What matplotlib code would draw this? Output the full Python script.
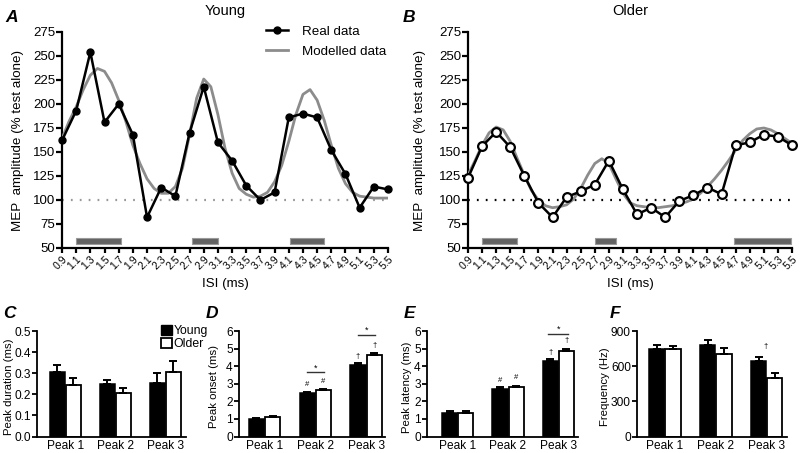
import matplotlib
matplotlib.use("Agg")
import matplotlib.pyplot as plt
from matplotlib.patches import Patch
from matplotlib.lines import Line2D
import numpy as np

plt.rcParams['font.family'] = ['Liberation Sans', 'DejaVu Sans']

# ---------------- data ----------------
isi = [0.9, 1.1, 1.3, 1.5, 1.7, 1.9, 2.1, 2.3, 2.5, 2.7, 2.9, 3.1, 3.3, 3.5,
       3.7, 3.9, 4.1, 4.3, 4.5, 4.7, 4.9, 5.1, 5.3, 5.5]
isi_labels = ["0.9", "1.1", "1.3", "1.5", "1.7", "1.9", "2.1", "2.3", "2.5", "2.7",
              "2.9", "3.1", "3.3", "3.5", "3.7", "3.9", "4.1", "4.3", "4.5", "4.7",
              "4.9", "5.1", "5.3", "5.5"]
young_real = [162, 193, 254, 181, 200, 168, 82, 113, 104, 170, 218, 160, 141, 115,
              100, 108, 186, 190, 186, 152, 127, 92, 114, 111]
older_real = [123, 156, 171, 155, 125, 97, 82, 103, 109, 116, 141, 111, 85, 92,
              82, 99, 105, 113, 106, 157, 160, 168, 166, 157]

model_x = [0.9, 1.0, 1.1, 1.2, 1.3, 1.4, 1.5, 1.6, 1.7, 1.8, 1.9, 2.0, 2.1, 2.2, 2.3,
           2.4, 2.5, 2.6, 2.7, 2.8, 2.9, 3.0, 3.1, 3.2, 3.3, 3.4, 3.5, 3.6, 3.7, 3.8,
           3.9, 4.0, 4.1, 4.2, 4.3, 4.4, 4.5, 4.6, 4.7, 4.8, 4.9, 5.0, 5.1, 5.2, 5.3,
           5.4, 5.5]
young_model = [164, 182, 197, 215, 230, 237, 234, 222, 204, 182, 157, 138, 122, 112, 107,
               107, 114, 133, 168, 206, 226, 218, 189, 154, 128, 112, 106, 103, 104, 108,
               119, 136, 161, 189, 210, 215, 204, 183, 157, 133, 117, 108, 104, 103, 102,
               102, 102]
older_model = [126, 141, 157, 170, 176, 173, 161, 143, 126, 110, 100, 94, 92, 93, 95,
               101, 112, 126, 138, 143, 138, 122, 107, 97, 94, 93, 92, 92, 93, 94,
               96, 98, 101, 107, 114, 122, 131, 141, 152, 162, 169, 174, 175, 173, 169,
               164, 159]

# significant windows (start, end) in ms
young_sig = [(1.10, 1.73), (2.73, 3.10), (4.12, 4.60)]
older_sig = [(1.10, 1.59), (2.71, 3.00), (4.68, 5.49)]

peaks = ["Peak 1", "Peak 2", "Peak 3"]
dur_young = [0.305, 0.248, 0.254]
dur_young_err = [0.032, 0.019, 0.048]
dur_older = [0.246, 0.208, 0.306]
dur_older_err = [0.030, 0.024, 0.053]

onset_young = [0.98, 2.45, 4.08]
onset_young_err = [0.08, 0.09, 0.09]
onset_older = [1.09, 2.62, 4.64]
onset_older_err = [0.10, 0.10, 0.11]

lat_young = [1.34, 2.70, 4.30]
lat_young_err = [0.09, 0.09, 0.10]
lat_older = [1.34, 2.81, 4.89]
lat_older_err = [0.09, 0.09, 0.11]

freq_young = [750, 778, 645]
freq_young_err = [31, 48, 37]
freq_older = [744, 702, 498]
freq_older_err = [31, 51, 42]

# ---------------- figure ----------------
W, H = 800, 453
fig = plt.figure(figsize=(8, 4.53), dpi=100)


def px_axes(x0, x1, ytop, ybot):
    return fig.add_axes([x0 / W, 1 - ybot / H, (x1 - x0) / W, (ybot - ytop) / H])


def style_axes(ax, lw=1.4):
    for s in ['top', 'right']:
        ax.spines[s].set_visible(False)
    for s in ['left', 'bottom']:
        ax.spines[s].set_linewidth(lw)
    ax.tick_params(direction='out', width=lw, length=4, colors='black')


def line_panel(ax, real, model, sig, open_markers, dot_color, title, title_x, ylabel_x):
    style_axes(ax, 1.6)
    ax.set_xlim(0.9, 5.5)
    ax.set_ylim(50, 275)
    ax.axhline(100, color=dot_color, lw=1.6, ls=(0, (0.8, 3.2)), zorder=1)
    for (a, b) in sig:
        ax.fill_between([a, b], 54.2, 60, color='#626262', lw=0.8,
                        edgecolor='#9a9a9a', zorder=2)
    ax.plot(model_x, model, color='#8c8c8c', lw=2.0, zorder=3)
    if open_markers:
        ax.plot(isi, real, color='black', lw=1.8, marker='o', ms=6.3,
                mfc='white', mec='black', mew=1.6, zorder=4, clip_on=False)
    else:
        ax.plot(isi, real, color='black', lw=1.8, marker='o', ms=5,
                mfc='black', mec='black', zorder=4, clip_on=False)
    ax.set_yticks([50, 75, 100, 125, 150, 175, 200, 225, 250, 275])
    ax.set_xticks(isi)
    ax.set_xticklabels(isi_labels, rotation=45, ha='right', rotation_mode='anchor',
                       fontsize=7.6)
    ax.tick_params(axis='y', labelsize=9.5, pad=1)
    ax.tick_params(axis='x', pad=1, length=3.5)
    ax.set_ylabel("MEP  amplitude (% test alone)", fontsize=9.6)
    ax.yaxis.set_label_coords(ylabel_x, 0.5)
    ax.set_xlabel("ISI (ms)", fontsize=9.6)
    ax.xaxis.set_label_coords(0.5, -0.138)
    fig.text(title_x / W, 1 - 11 / H, title, ha='center', va='center', fontsize=10.5)


axA = px_axes(62, 388, 32, 248)
line_panel(axA, young_real, young_model, young_sig, False, '#999999', "Young", 225, -0.118)
axB = px_axes(468, 792, 32, 248)
line_panel(axB, older_real, older_model, older_sig, True, 'black', "Older", 630, -0.13)

leg_handles = [Line2D([0], [0], color='black', lw=1.8, marker='o', ms=5),
               Line2D([0], [0], color='#8c8c8c', lw=2.0)]
axA.legend(leg_handles, ["Real data", "Modelled data"], loc='upper right',
           bbox_to_anchor=(1.03, 1.085), frameon=False, fontsize=9.6,
           handlelength=1.7, handletextpad=1.0, labelspacing=0.55)

fig.text(12 / W, 1 - 17 / H, "A", fontsize=12.5, fontweight='bold', fontstyle='italic',
         ha='center', va='center')
fig.text(409 / W, 1 - 17 / H, "B", fontsize=12.5, fontweight='bold', fontstyle='italic',
         ha='center', va='center')


def bar_panel(ax, yv, ye, ov, oe, ylim, yticks, ylabel, xlim, ylabel_x):
    style_axes(ax, 1.3)
    g = np.arange(len(peaks))
    ax.bar(g - 0.16, yv, width=0.3, color='black', edgecolor='black', lw=1.1, zorder=2)
    ax.bar(g + 0.16, ov, width=0.3, color='white', edgecolor='black', lw=1.3, zorder=2)
    ax.errorbar(g - 0.16, yv, yerr=[[0] * 3, ye], fmt='none', ecolor='black',
                elinewidth=1.4, capsize=2.6, capthick=1.4, zorder=3)
    ax.errorbar(g + 0.16, ov, yerr=[[0] * 3, oe], fmt='none', ecolor='black',
                elinewidth=1.4, capsize=2.6, capthick=1.4, zorder=3)
    ax.set_xlim(*xlim)
    ax.set_ylim(*ylim)
    ax.set_yticks(yticks)
    ax.set_xticks(g)
    ax.set_xticklabels(peaks, fontsize=8.6)
    ax.tick_params(axis='x', length=0, pad=2.5)
    ax.tick_params(axis='y', labelsize=8.6, pad=1, length=3.5)
    ax.set_ylabel(ylabel, fontsize=8.2)
    ax.yaxis.set_label_coords(ylabel_x, 0.47)


axC = px_axes(37, 186, 331, 436.5)
bar_panel(axC, dur_young, dur_young_err, dur_older, dur_older_err, (0, 0.5),
          [0.0, 0.1, 0.2, 0.3, 0.4, 0.5], "Peak duration (ms)", (-0.57, 2.42), -0.155)
axC.set_yticklabels(["0.0", "0.1", "0.2", "0.3", "0.4", "0.5"])
axC.legend([Patch(facecolor='black', edgecolor='black'),
            Patch(facecolor='white', edgecolor='black', lw=1.3)],
           ["Young", "Older"], loc='upper left', bbox_to_anchor=(0.83, 1.06),
           frameon=False, fontsize=8.8, handlelength=0.9, handleheight=0.9,
           handletextpad=0.15, labelspacing=0.1, borderaxespad=0, borderpad=0)

axD = px_axes(239, 385, 331, 436.5)
bar_panel(axD, onset_young, onset_young_err, onset_older, onset_older_err, (0, 6),
          [0, 1, 2, 3, 4, 5, 6], "Peak onset (ms)", (-0.5, 2.37), -0.135)

axE = px_axes(427, 578, 331, 436.5)
bar_panel(axE, lat_young, lat_young_err, lat_older, lat_older_err, (0, 6),
          [0, 1, 2, 3, 4, 5, 6], "Peak latency (ms)", (-0.61, 2.39), -0.1)

axF = px_axes(637, 787, 331, 436.5)
bar_panel(axF, freq_young, freq_young_err, freq_older, freq_older_err, (0, 900),
          [0, 300, 600, 900], "Frequency (Hz)", (-0.55, 2.4), -0.18)


def sig_line(ax, gidx, y, half=0.17):
    ax.plot([gidx - half, gidx + half], [y, y], color='#333333', lw=1.0, clip_on=False)
    ax.text(gidx, y, "*", ha='center', va='bottom', fontsize=6.5)


def mark(ax, x, y, s):
    ax.text(x, y, s, ha='center', va='center', fontsize=5.5)


sig_line(axD, 1, 3.64)
sig_line(axD, 2, 5.79)
mark(axD, 1 - 0.16, 2.94, "#")
mark(axD, 1 + 0.16, 3.10, "#")
mark(axD, 2 - 0.16, 4.53, "\u2020")
mark(axD, 2 + 0.16, 5.20, "\u2020")

sig_line(axE, 2, 5.85, half=0.2)
mark(axE, 1 - 0.16, 3.20, "#")
mark(axE, 1 + 0.16, 3.36, "#")
mark(axE, 2 - 0.16, 4.77, "\u2020")
mark(axE, 2 + 0.16, 5.47, "\u2020")

mark(axF, 2 - 0.03, 770, "\u2020")

for lab, xp in [("C", 9), ("D", 212), ("E", 410), ("F", 615)]:
    fig.text(xp / W, 1 - 314 / H, lab, fontsize=12.5, fontweight='bold',
             fontstyle='italic', ha='center', va='center')

fig.savefig("out.png", dpi=100)
